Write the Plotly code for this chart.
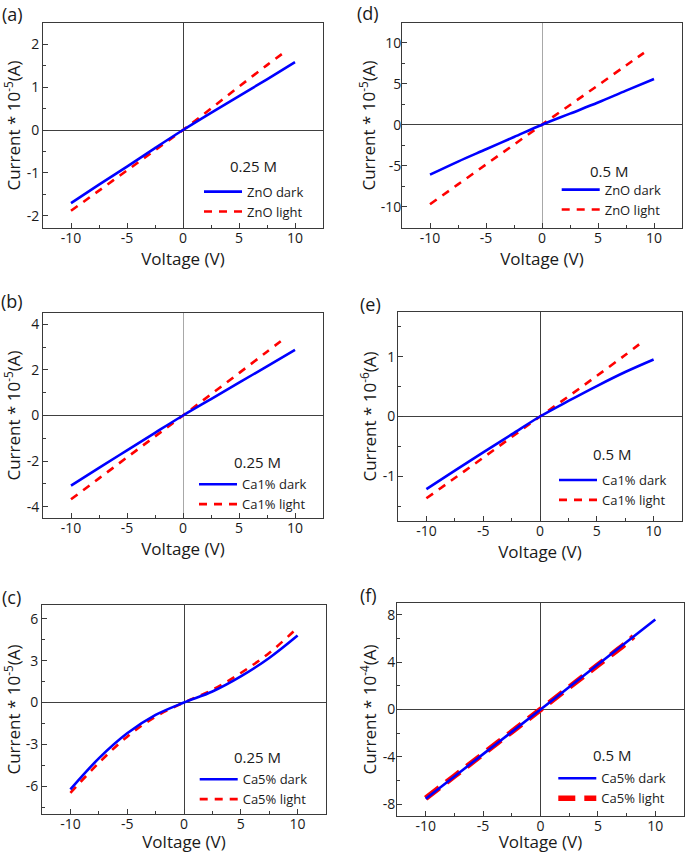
import plotly.graph_objects as go

W, H = 685, 853

# ---------------- data ----------------
# (a) 0.25 M ZnO, current * 1e-5 A
a_v_dark = [-10, -7.5, -5, -2.5, 0, 2.5, 5, 7.5, 10]
a_i_dark = [-1.70, -1.27, -0.85, -0.42, 0, 0.40, 0.79, 1.18, 1.58]
a_v_light = [-10, -7.5, -5, -2.5, 0, 2.5, 5, 7.5, 9.1]
a_i_light = [-1.88, -1.41, -0.94, -0.47, 0, 0.50, 1.01, 1.51, 1.82]

# (b) 0.25 M Ca1%, current * 1e-5 A
b_v_dark = [-10, -7.5, -5, -2.5, 0, 2.5, 5, 7.5, 10]
b_i_dark = [-3.08, -2.30, -1.53, -0.76, 0, 0.72, 1.44, 2.16, 2.88]
b_v_light = [-10, -7.5, -5, -2.5, 0, 2.5, 5, 7.5, 9.1]
b_i_light = [-3.68, -2.76, -1.84, -0.92, 0, 0.93, 1.86, 2.80, 3.40]

# (c) 0.25 M Ca5%, current * 1e-5 A
c_v_dark = [-10, -7.5, -5, -2.5, 0, 2.5, 5, 7.5, 10]
c_i_dark = [-6.23, -4.01, -2.21, -0.89, 0, 0.79, 1.875, 3.20, 4.81]
c_v_light = [-10, -7.5, -5, -2.5, 0, 2.5, 5, 7.5, 9.9]
c_i_light = [-6.49, -4.33, -2.45, -1.01, 0, 0.91, 2.12, 3.56, 5.29]

# (d) 0.5 M ZnO, current * 1e-5 A
d_v_dark = [-10, -7.5, -5, -2.5, 0, 2.5, 5, 7.5, 10]
d_i_dark = [-6.10, -4.50, -3.00, -1.50, 0, 1.35, 2.70, 4.15, 5.57]
d_v_light = [-10, -7.5, -5, -2.5, 0, 2.5, 5, 7.5, 9.1]
d_i_light = [-9.70, -7.28, -4.85, -2.43, 0, 2.40, 4.80, 7.22, 8.76]

# (e) 0.5 M Ca1%, current * 1e-6 A
e_v_dark = [-10, -7.5, -5, -2.5, 0, 2.5, 5, 7.5, 10]
e_i_dark = [-1.216, -0.905, -0.60, -0.30, 0, 0.26, 0.51, 0.745, 0.955]
e_v_light = [-10, -7.5, -5, -2.5, 0, 2.5, 5, 7.5, 9.15]
e_i_light = [-1.37, -1.03, -0.69, -0.345, 0, 0.336, 0.68, 1.03, 1.27]

# (f) 0.5 M Ca5%, current * 1e-4 A
f_v_dark = [-10, -7.5, -5, -2.5, 0, 2.5, 5, 7.5, 10]
f_i_dark = [-7.55, -5.66, -3.77, -1.89, 0, 1.90, 3.80, 5.70, 7.60]
f_v_light = [-10, -7.5, -5, -2.5, 0, 2.5, 5, 7.5, 8.1]
f_i_light = [-7.50, -5.63, -3.75, -1.88, 0, 1.88, 3.76, 5.64, 6.16]

# tick labels
x_tickvals = [-10, -5, 0, 5, 10]
x_ticktext = ["-10", "-5", "0", "5", "10"]
a_tickvals = [-2, -1, 0, 1, 2]
a_ticktext = ["-2", "-1", "0", "1", "2"]
b_tickvals = [-4, -2, 0, 2, 4]
b_ticktext = ["-4", "-2", "0", "2", "4"]
c_tickvals = [-6, -3, 0, 3, 6]
c_ticktext = ["-6", "-3", "0", "3", "6"]
d_tickvals = [-10, -5, 0, 5, 10]
d_ticktext = ["-10", "-5", "0", "5", "10"]
e_tickvals = [-1, 0, 1]
e_ticktext = ["-1", "0", "1"]
f_tickvals = [-8, -4, 0, 4, 8]
f_ticktext = ["-8", "-4", "0", "4", "8"]

panel_labels = ["(a)", "(b)", "(c)", "(d)", "(e)", "(f)"]
conc_labels = ["0.25 M", "0.25 M", "0.25 M", "0.5 M", "0.5 M", "0.5 M"]
sample_names = ["ZnO", "Ca1%", "Ca5%", "ZnO", "Ca1%", "Ca5%"]
exponents = ["-5", "-5", "-5", "-5", "-6", "-4"]

# ---------------- layout geometry (pixels) ----------------
FONT = "Open Sans"
TXT = "#1a1a1a"
AX = "#3a3a3a"

panels = [
    dict(data=(a_v_dark, a_i_dark, a_v_light, a_i_light), tv=a_tickvals, tt=a_ticktext,
         yr=[-2.28, 2.49], ydt=0.5, box=(43, 323, 23, 228), vz="#404040", ys=3, yls=0,
         lab=(12, 14), conc=(253.7, 165.7), leg=(205, 190.7), lw=2.6, dash="8px,7px"),
    dict(data=(b_v_dark, b_i_dark, b_v_light, b_i_light), tv=b_tickvals, tt=b_ticktext,
         yr=[-4.5, 4.5], ydt=1, box=(43, 323, 313, 518), vz="#a8a8a8", ys=2, yls=0,
         lab=(11.5, 301), conc=(257, 462.3), leg=(200, 483.3), lw=2.6, dash="8px,7px"),
    dict(data=(c_v_dark, c_i_dark, c_v_light, c_i_light), tv=c_tickvals, tt=c_ticktext,
         yr=[-8, 7], ydt=1.5, box=(42, 326, 605, 814), vz="#404040", ys=4, yls=0,
         lab=(11, 596.5), conc=(257.7, 756.7), leg=(200.7, 778.3), lw=2.6, dash="8px,7px"),
    dict(data=(d_v_dark, d_i_dark, d_v_light, d_i_light), tv=d_tickvals, tt=d_ticktext,
         yr=[-12.6, 12.4], ydt=2.5, box=(402, 682, 23, 228), vz="#a8a8a8", ys=0, yls=-3,
         lab=(368, 13.5), conc=(608.7, 170.7), leg=(562.7, 188.7), lw=2.6, dash="8px,7px"),
    dict(data=(e_v_dark, e_i_dark, e_v_light, e_i_light), tv=e_tickvals, tt=e_ticktext,
         yr=[-1.75, 1.75], ydt=0.5, box=(398, 682, 312, 521), vz="#404040", ys=1, yls=-1,
         lab=(370.5, 304), conc=(611.7, 454), leg=(560, 479), lw=2.6, dash="8px,7px"),
    dict(data=(f_v_dark, f_i_dark, f_v_light, f_i_light), tv=f_tickvals, tt=f_ticktext,
         yr=[-9, 9], ydt=2, box=(397, 684, 603, 816), vz="#404040", ys=1, yls=-2,
         lab=(368, 595), conc=(612.3, 755), leg=(559.3, 777.3), lw=5.5, dash="17px,9px"),
]


def px(x):
    return x / W


def py(y):
    return 1 - y / H


fig = go.Figure()
layout = dict(
    width=W, height=H, autosize=False,
    margin=dict(l=0, r=0, t=0, b=0),
    paper_bgcolor="white", plot_bgcolor="white",
    font=dict(family=FONT, size=13, color=TXT),
    annotations=[],
)

for k, p in enumerate(panels):
    n = "" if k == 0 else str(k + 1)
    xa, ya = "x" + n, "y" + n
    lg = "legend" + n
    vd, idk, vl, il = p["data"]
    # light first so dark lies on top (as in the reference)
    fig.add_trace(go.Scatter(
        x=vl, y=il, mode="lines", xaxis=xa, yaxis=ya, legend=lg, legendrank=2,
        name=sample_names[k] + " light",
        line=dict(color="#ff0000", width=p["lw"], dash=p["dash"], shape="spline", smoothing=1),
        showlegend=True))
    fig.add_trace(go.Scatter(
        x=vd, y=idk, mode="lines", xaxis=xa, yaxis=ya, legend=lg, legendrank=1,
        name=sample_names[k] + " dark",
        line=dict(color="#0000ff", width=2.6, shape="spline", smoothing=1),
        showlegend=True))

    l, r, t, b = p["box"]
    layout["xaxis" + n] = dict(
        domain=[px(l), px(r)], range=[-12.5, 12.5], anchor=ya,
        tickmode="array", tickvals=x_tickvals, ticktext=x_ticktext,
        ticks="inside", ticklen=5, tickwidth=1, tickcolor=AX, ticklabelstandoff=-3,
        minor=dict(tickmode="linear", tick0=0, dtick=2.5, ticks="inside", ticklen=3, tickwidth=1, tickcolor=AX),
        showline=True, linecolor=AX, linewidth=1, mirror=True,
        showgrid=False, zeroline=True, zerolinecolor=p["vz"], zerolinewidth=1,
        tickfont=dict(size=14, color=TXT, family=FONT),
        title=dict(text="Voltage (V)", font=dict(size=17, color=TXT, family=FONT), standoff=0),
    )
    layout["yaxis" + n] = dict(
        domain=[py(b), py(t)], range=p["yr"], anchor=xa,
        tickmode="array", tickvals=p["tv"], ticktext=p["tt"],
        ticks="inside", ticklen=5, tickwidth=1, tickcolor=AX, ticklabelstandoff=p["yls"],
        minor=dict(tickmode="linear", tick0=0, dtick=p["ydt"], ticks="inside", ticklen=3, tickwidth=1, tickcolor=AX),
        showline=True, linecolor=AX, linewidth=1, mirror=True,
        showgrid=False, zeroline=True, zerolinecolor="#404040", zerolinewidth=1,
        tickfont=dict(size=14, color=TXT, family=FONT),
        title=dict(text="Current * 10<sup>" + exponents[k] + "</sup>(A)",
                   font=dict(size=17, color=TXT, family=FONT), standoff=p["ys"]),
    )
    lx, ly = p["leg"]
    layout[lg] = dict(
        x=px(lx - 6), y=py(ly - 14), xanchor="left", yanchor="top",
        bgcolor="rgba(0,0,0,0)", borderwidth=0, itemwidth=38,
        font=dict(size=13, color=TXT, family=FONT), tracegroupgap=0,
        traceorder="normal", itemclick=False, itemdoubleclick=False,
    )
    cx, cy = p["conc"]
    layout["annotations"].append(dict(
        text=conc_labels[k], x=px(cx), y=py(cy), xref="paper", yref="paper",
        xanchor="center", yanchor="middle", showarrow=False,
        font=dict(size=15, color=TXT, family=FONT)))
    lbx, lby = p["lab"]
    layout["annotations"].append(dict(
        text=panel_labels[k], x=px(lbx), y=py(lby), xref="paper", yref="paper",
        xanchor="center", yanchor="middle", showarrow=False,
        font=dict(size=18, color=TXT, family=FONT)))

fig.update_layout(**layout)
fig.write_html("out.html", config={"displayModeBar": False},
               post_script="document.body.style.margin='0';document.body.style.padding='0';")
